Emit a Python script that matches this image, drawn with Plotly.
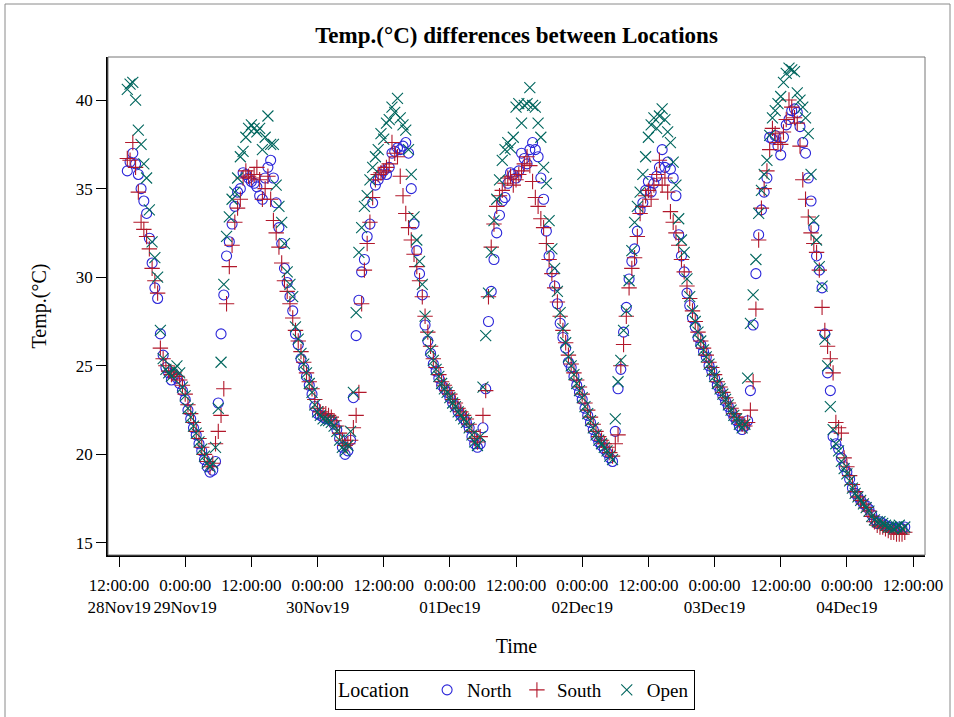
import pandas as pd
import plotly.graph_objects as go

# Half-hourly air temperature (°C) at three locations, starting 28 Nov 2019 13:30
north = [
    36.0, 36.5, 37.0, 36.4, 35.8, 35.0, 34.3, 33.6, 32.2, 30.8, 29.4, 28.8,
    26.8, 25.6, 24.9, 24.6, 24.2, 24.5, 24.3, 24.0, 23.6,
    # 29 Nov
    23.1, 22.5, 22.0, 21.5, 21.1, 20.6, 20.2, 19.7, 19.3, 19.0, 19.1, 19.6,
    22.9, 26.8, 29.0, 31.2, 32.0, 33.0, 34.0, 34.8, 35.0, 35.9, 35.8, 35.6,
    35.4, 35.3, 35.1, 34.6, 34.4, 35.6, 36.2, 36.6, 35.6, 34.2, 32.8, 31.9,
    30.5, 29.7, 28.9, 28.1, 26.8, 26.2, 25.4, 24.9, 24.4, 23.9, 23.4, 22.7,
    # 30 Nov
    22.3, 22.2, 22.1, 22.0, 22.0, 21.9, 21.7, 21.4, 20.9, 20.4, 20.0, 20.2,
    20.8, 23.2, 26.7, 28.7, 30.3, 31.0, 32.3, 33.0, 34.2, 35.2, 35.5, 35.8,
    36.0, 35.8, 36.2, 37.0, 37.1, 37.3, 37.2, 37.4, 37.6, 37.0, 35.0, 33.0,
    31.5, 30.2, 29.0, 27.3, 26.4, 25.7, 25.1, 24.7, 24.3, 23.9, 23.7, 23.5,
    # 01 Dec
    23.2, 22.9, 22.7, 22.4, 22.2, 22.0, 21.8, 21.5, 21.0, 20.6, 20.4, 20.6,
    21.5, 23.7, 27.5, 29.2, 31.0, 32.5, 33.5, 34.3, 34.5, 35.3, 35.9, 35.8,
    35.6, 36.0, 37.0, 36.7, 36.4, 37.2, 37.6, 37.2, 36.8, 35.6, 34.4, 32.6,
    31.2, 30.3, 29.5, 28.5, 27.4, 26.6, 26.0, 25.2, 24.9, 24.4, 23.9, 23.5,
    # 02 Dec
    23.1, 22.6, 22.2, 21.8, 21.4, 21.0, 20.7, 20.5, 20.3, 20.1, 19.8, 19.6,
    21.3, 23.7, 24.8, 26.9, 28.3, 29.9, 30.9, 31.6, 32.6, 33.8, 34.2, 34.9,
    35.4, 34.8, 35.3, 35.7, 36.2, 37.2, 36.2, 36.5, 36.1, 35.6, 34.6, 32.4,
    31.2, 30.3, 29.1, 28.4, 27.7, 27.2, 26.6, 26.2, 25.8, 25.5, 25.0, 24.7,
    # 03 Dec
    24.3, 23.9, 23.6, 23.3, 23.0, 22.7, 22.4, 22.1, 21.9, 21.6, 21.4, 21.6,
    21.9, 23.6, 27.3, 30.2, 32.4, 33.8, 34.8, 35.6, 37.9, 37.8, 38.0, 37.4,
    36.9, 37.9, 38.6, 38.9, 39.4, 39.5, 39.3, 38.5, 37.6, 37.0, 35.6, 34.3,
    32.8, 31.2, 30.4, 29.4, 26.8, 24.6, 23.6, 21.0, 20.6, 20.3, 19.8, 19.3,
    # 04 Dec
    19.0, 18.6, 18.1, 17.8, 17.6, 17.4, 17.2, 17.1, 16.9, 16.6, 16.3, 16.1,
    16.2, 16.1, 16.0, 15.9, 15.9, 15.8, 15.8, 15.9, 15.8, 15.9,
]

south = [
    36.7, 36.6, 37.6, 36.2, 34.8, 33.1, 32.7, 32.3, 31.6, 30.5, 29.8, 29.1,
    26.0, 25.4, 25.0, 24.7, 24.5, 24.6, 24.4, 24.2, 23.9,
    # 29 Nov
    23.4, 22.8, 22.3, 21.8, 21.3, 20.9, 20.4, 20.0, 19.6, 19.3, 19.5, 20.6,
    21.3, 22.2, 23.7, 28.5, 30.6, 31.8, 33.1, 33.9, 34.4, 35.6, 36.0, 35.7,
    35.6, 35.8, 36.2, 35.5, 34.4, 35.0, 35.7, 34.4, 33.2, 32.5, 31.7, 30.8,
    29.8, 29.2, 28.5, 27.7, 27.0, 26.4, 25.8, 25.2, 24.6, 24.1, 23.7, 23.1,
    # 30 Nov
    22.6, 22.4, 22.3, 22.3, 22.2, 22.1, 21.9, 21.6, 21.2, 20.8, 20.5, 20.6,
    20.8, 21.5, 22.2, 23.5, 28.5, 30.4, 31.9, 33.1, 34.5, 35.5, 35.8, 35.9,
    36.0, 36.2, 36.4, 37.6, 37.0, 36.8, 35.7, 34.6, 33.6, 32.8, 32.1, 31.3,
    30.6, 29.8, 28.9, 27.8, 26.9, 26.1, 25.4, 24.9, 24.5, 24.1, 23.9, 23.6,
    # 01 Dec
    23.4, 23.1, 22.9, 22.6, 22.4, 22.2, 22.0, 21.7, 21.3, 20.9, 20.7, 21.0,
    22.2, 23.6, 28.9, 31.7, 33.0, 34.0, 34.6, 34.9, 35.3, 35.6, 35.7, 35.2,
    35.5, 35.8, 36.0, 36.4, 36.8, 36.3, 35.4, 34.5, 34.0, 33.3, 32.8, 31.9,
    31.0, 30.2, 29.4, 28.6, 27.8, 27.0, 26.3, 25.6, 25.1, 24.6, 24.2, 23.8,
    # 02 Dec
    23.4, 22.9, 22.5, 22.1, 21.7, 21.3, 21.0, 20.8, 20.6, 20.4, 20.1, 19.9,
    20.6, 21.1, 25.0, 26.2, 27.8, 29.4, 30.5, 31.1, 32.3, 33.6, 34.0, 34.6,
    34.9, 34.4, 35.2, 35.8, 36.6, 35.2, 35.6, 34.8, 33.7, 33.1, 32.5, 31.8,
    31.0, 30.3, 29.5, 28.8, 28.1, 27.5, 26.9, 26.4, 26.0, 25.6, 25.2, 24.9,
    # 03 Dec
    24.5, 24.1, 23.8, 23.5, 23.2, 22.9, 22.6, 22.3, 22.1, 21.9, 21.7, 21.6,
    21.8, 22.5, 24.1, 28.2, 32.1, 33.9, 35.0, 36.0, 37.2, 38.4, 38.1, 37.6,
    37.5, 38.2, 38.9, 40.0, 39.6, 39.0, 38.7, 37.4, 35.5, 34.4, 33.4, 32.5,
    31.9, 31.4, 30.4, 28.3, 27.0, 26.1, 25.4, 24.6, 21.8, 21.5, 21.2, 19.8,
    # 04 Dec
    19.3, 18.8, 18.3, 17.9, 17.6, 17.4, 17.2, 17.0, 16.8, 16.5, 16.2, 16.0,
    15.9, 15.9, 15.8, 15.7, 15.6, 15.6, 15.5, 15.5, 15.5, 15.6,
]

open_site = [
    40.6, 40.9, 41.0, 40.0, 38.3, 37.5, 36.4, 35.6, 33.8, 32.0, 31.1, 30.0,
    27.0, 25.4, 24.8, 24.6, 24.4, 24.8, 25.0, 24.6, 23.8,
    # 29 Nov
    23.3, 22.6, 22.1, 21.6, 21.2, 20.7, 20.3, 19.9, 19.5, 19.3, 19.5, 20.4,
    22.6, 25.2, 29.6, 32.3, 33.4, 34.4, 34.8, 35.6, 36.8, 37.1, 37.9, 38.4,
    38.6, 38.4, 38.2, 38.4, 37.2, 37.9, 39.1, 37.5, 37.5, 35.2, 34.0, 33.1,
    31.9, 30.3, 29.6, 28.9, 27.2, 26.5, 25.7, 25.1, 24.6, 24.0, 23.5, 22.8,
    # 30 Nov
    22.4, 22.2, 22.0, 21.9, 21.9, 21.8, 21.6, 21.3, 20.8, 20.4, 20.2, 20.5,
    21.3, 23.5, 28.0, 31.4, 32.8, 34.0, 34.6, 35.5, 36.2, 36.8, 37.2, 38.1,
    37.8, 38.7, 38.9, 39.6, 39.3, 40.1, 39.0, 38.6, 38.3, 37.2, 35.8, 33.4,
    32.1, 30.9, 29.6, 27.8, 26.7, 25.9, 25.3, 24.8, 24.4, 24.0, 23.7, 23.5,
    # 01 Dec
    23.2, 22.9, 22.7, 22.4, 22.2, 22.0, 21.8, 21.5, 21.1, 20.7, 20.5, 21.0,
    23.8, 26.7, 29.1, 31.4, 33.2, 34.4, 35.5, 36.6, 37.2, 37.6, 37.3, 37.9,
    39.6, 39.8, 38.7, 39.7, 39.8, 40.7, 39.7, 39.6, 38.7, 37.9, 36.2, 35.3,
    33.2, 31.6, 30.5, 29.2, 28.0, 27.1, 26.3, 25.5, 25.0, 24.5, 24.0, 23.6,
    # 02 Dec
    23.2, 22.7, 22.3, 21.9, 21.5, 21.1, 20.8, 20.6, 20.4, 20.2, 19.9, 19.7,
    22.0, 24.1, 25.3, 27.0, 28.1, 29.8, 31.5, 33.1, 34.0, 34.8, 35.8, 36.8,
    37.9, 38.6, 39.0, 38.4, 39.1, 39.5, 38.9, 38.2, 37.6, 36.5, 35.2, 33.3,
    32.1, 31.4, 29.9, 28.9, 28.1, 27.5, 26.9, 26.4, 25.9, 25.5, 25.1, 24.7,
    # 03 Dec
    24.4, 24.0, 23.7, 23.4, 23.1, 22.8, 22.5, 22.2, 22.0, 21.7, 21.5, 21.7,
    24.3, 27.4, 29.0, 31.0, 33.6, 34.9, 35.8, 36.6, 38.0, 39.0, 39.4, 39.8,
    40.2, 41.0, 41.5, 41.8, 41.7, 41.6, 40.4, 40.0, 39.6, 39.0, 38.1, 35.8,
    33.2, 32.1, 30.6, 29.5, 26.5, 25.0, 22.7, 21.4, 20.6, 20.2, 19.6, 19.2,
    # 04 Dec
    18.9, 18.5, 18.1, 17.8, 17.6, 17.4, 17.2, 17.0, 16.8, 16.5, 16.3, 16.2,
    16.2, 16.1, 16.0, 15.9, 15.9, 15.8, 15.9, 16.0, 15.8, 15.9,
]

tick_text = [
    "12:00:00<br>28Nov19", "0:00:00<br>29Nov19", "12:00:00",
    "0:00:00<br>30Nov19", "12:00:00", "0:00:00<br>01Dec19", "12:00:00",
    "0:00:00<br>02Dec19", "12:00:00", "0:00:00<br>03Dec19", "12:00:00",
    "0:00:00<br>04Dec19", "12:00:00",
]
y_ticks = [15, 20, 25, 30, 35, 40]

times = pd.date_range("2019-11-28 13:30", periods=len(north), freq="30min")
tick_vals = pd.date_range("2019-11-28 12:00", "2019-12-04 12:00", freq="12h")

FONT = "Liberation Serif, Times New Roman, serif"

series = [
    ("North", north, "circle-open", 10, "#2A25D9"),
    ("South", south, "cross-thin-open", 11, "#B2182B"),
    ("Open", open_site, "x-thin-open", 11, "#01665E"),
]

fig = go.Figure()
for name, values, symbol, size, color in series:
    fig.add_trace(go.Scatter(
        x=times, y=values, mode="markers", name=name,
        marker=dict(symbol=symbol, size=size, color=color,
                    line=dict(color=color, width=1.1)),
    ))

# plot-area geometry in pixels
L, R, T, B, W, H = 108, 925, 57, 555, 954, 717
pw, ph = R - L, B - T

def px_x(p):
    return (p - L) / pw

def px_y(p):
    return (B - p) / ph

fig.update_layout(
    width=W, height=H,
    margin=dict(l=L, r=W - R, t=T, b=H - B, autoexpand=False),
    paper_bgcolor="white", plot_bgcolor="white",
    font=dict(family=FONT, color="black", size=17),
    title=dict(text="<b>Temp.(°C) differences between Locations</b>",
               x=px_x((L + R) / 2), xref="paper", xanchor="center",
               y=1 - 35 / H, yref="container", yanchor="middle",
               font=dict(size=23, family=FONT)),
    showlegend=True,
    legend=dict(orientation="h",
                xref="container", x=515 / W, xanchor="center",
                yref="container", y=1 - 670 / H, yanchor="top",
                bordercolor="black", borderwidth=1,
                font=dict(size=19, family=FONT),
                title=dict(text="Location  ", side="left",
                           font=dict(size=20, family=FONT)),
                itemwidth=30, traceorder="normal"),
    shapes=[
        dict(type="rect", xref="paper", yref="paper",
             x0=px_x(5), x1=px_x(950), y0=px_y(800), y1=px_y(4),
             line=dict(color="#8a8a8a", width=1), layer="below"),
        dict(type="rect", xref="paper", yref="paper",
             x0=0, x1=1, y0=0, y1=1,
             line=dict(color="#777777", width=1), layer="above"),
    ],
)

fig.update_xaxes(
    type="date",
    range=["2019-11-28 10:00", "2019-12-04 14:10"],
    tickmode="array", tickvals=tick_vals, ticktext=tick_text,
    ticks="outside", ticklen=10, tickcolor="black", tickwidth=1,
    ticklabelstandoff=4,
    showline=True, linecolor="black", linewidth=1.5,
    showgrid=False, zeroline=False,
    tickfont=dict(size=17, family=FONT),
    title=dict(text="Time", font=dict(size=20, family=FONT), standoff=23),
    automargin=False,
)
fig.update_yaxes(
    range=[14.32, 42.43],
    tickmode="array", tickvals=y_ticks,
    ticks="outside", ticklen=10, tickcolor="black", tickwidth=1,
    showline=True, linecolor="black", linewidth=1.5,
    showgrid=False, zeroline=False,
    tickfont=dict(size=17, family=FONT),
    title=dict(text="Temp.(°C)", font=dict(size=20, family=FONT), standoff=24),
    automargin=False,
)

fig.write_html("out.html")
